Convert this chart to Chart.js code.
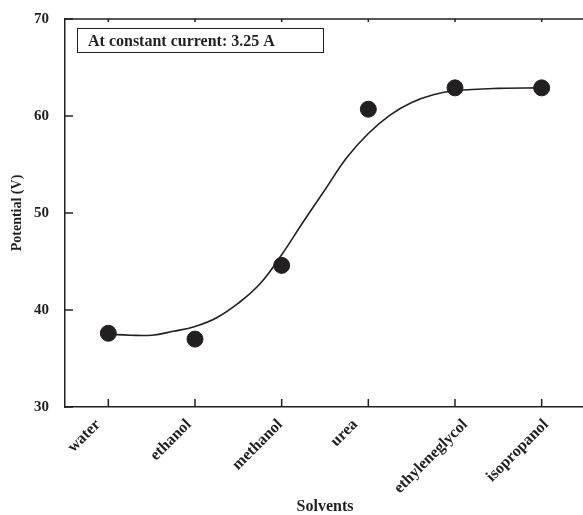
<!DOCTYPE html>
<html>
<head>
<meta charset="utf-8">
<script src="https://cdn.jsdelivr.net/npm/chart.js@4/dist/chart.umd.min.js"></script>
<style>
html,body{margin:0;padding:0;overflow:hidden;background:#fff;}
#wrap{width:585px;height:515px;position:relative;}
</style>
</head>
<body>
<div id="wrap"><canvas id="c" width="585" height="515"></canvas></div>
<script>
// Data
const solvents = ["water", "ethanol", "methanol", "urea", "ethyleneglycol", "isopropanol"];
const potential = [37.6, 37.0, 44.6, 60.7, 62.9, 62.9];
// Fitted curve read along its path (x = category position)
const fitX = [0, 0.25, 0.5, 0.75, 1, 1.25, 1.5, 1.75, 2, 2.25, 2.5, 2.75, 3, 3.25, 3.5, 3.75, 4, 4.5, 5];
const fitY = [37.5, 37.4, 37.4, 37.8, 38.3, 39.2, 40.7, 42.7, 45.7, 49.1, 52.4, 55.7, 58.2, 60.1, 61.4, 62.2, 62.6, 62.85, 62.9];
const yTicks = [30, 40, 50, 60, 70];
const note = "At constant current: 3.25 A";

const INK = '#231f20';
const FONT = '"Liberation Serif", "Times New Roman", serif';

const framePlugin = {
  id: 'frame',
  afterDraw(chart) {
    const ctx = chart.ctx;
    const a = chart.chartArea;
    const xs = chart.scales.x, ys = chart.scales.y;
    ctx.save();
    ctx.strokeStyle = INK;
    ctx.lineWidth = 1.5;
    // top border
    ctx.beginPath();
    ctx.moveTo(a.left, a.top);
    ctx.lineTo(a.right, a.top);
    ctx.stroke();
    // category ticks (inside) bottom and top
    solvents.forEach((s, i) => {
      const px = xs.getPixelForValue(i);
      ctx.beginPath();
      ctx.moveTo(px, a.bottom);
      ctx.lineTo(px, a.bottom - 8);
      ctx.moveTo(px, a.top);
      ctx.lineTo(px, a.top + 3);
      ctx.stroke();
    });
    // y ticks (inside)
    yTicks.forEach(v => {
      const py = ys.getPixelForValue(v);
      ctx.beginPath();
      ctx.moveTo(a.left, py);
      ctx.lineTo(a.left + 8, py);
      ctx.stroke();
    });
    // rotated category labels
    ctx.fillStyle = INK;
    ctx.font = 'bold 16px ' + FONT;
    ctx.textAlign = 'center';
    ctx.textBaseline = 'middle';
    solvents.forEach((s, i) => {
      const px = xs.getPixelForValue(i);
      const w = ctx.measureText(s).width;
      const h = 12;
      const cx = px - 24;
      const cy = a.bottom + 11 + (w + h) * 0.3536;
      ctx.save();
      ctx.translate(cx, cy);
      ctx.rotate(-Math.PI / 4);
      ctx.fillText(s, 0, 0);
      ctx.restore();
    });
    // annotation box
    ctx.lineWidth = 1;
    ctx.strokeRect(77.5, 28.5, 246, 24);
    ctx.font = 'bold 16px ' + FONT;
    ctx.textAlign = 'left';
    ctx.textBaseline = 'middle';
    ctx.fillText(note, 88, 41.5);
    ctx.restore();
  }
};

new Chart(document.getElementById('c'), {
  type: 'scatter',
  data: {
    datasets: [
      {
        type: 'line',
        data: fitX.map((x, i) => ({x: x, y: fitY[i]})),
        borderColor: INK,
        borderWidth: 1.6,
        pointRadius: 0,
        tension: 0.4,
        fill: false,
        order: 2
      },
      {
        type: 'scatter',
        data: potential.map((v, i) => ({x: i, y: v})),
        backgroundColor: INK,
        borderColor: INK,
        pointRadius: 8,
        pointHoverRadius: 8,
        order: 1
      }
    ]
  },
  options: {
    responsive: false,
    animation: false,
    devicePixelRatio: 1,
    layout: {autoPadding: false, padding: {top: 19, right: 0, bottom: 0, left: 0}},
    plugins: {legend: {display: false}, tooltip: {enabled: false}},
    scales: {
      x: {
        type: 'linear',
        min: -0.5,
        max: 5.5,
        afterBuildTicks: s => { s.ticks = solvents.map((_, i) => ({value: i})); },
        afterFit: s => { s.height = 108; },
        grid: {display: false},
        border: {display: true, color: INK, width: 1.5},
        ticks: {display: false},
        title: {
          display: true,
          text: 'Solvents',
          color: INK,
          padding: {top: 0, bottom: 0},
          font: {family: FONT, size: 16, weight: 'bold', lineHeight: 1}
        }
      },
      y: {
        min: 30,
        max: 70,
        afterBuildTicks: s => { s.ticks = yTicks.map(v => ({value: v})); },
        afterFit: s => { s.width = 65; },
        grid: {display: false},
        border: {display: true, color: INK, width: 1.5},
        ticks: {
          padding: 8,
          color: INK,
          font: {family: FONT, size: 15, weight: 'bold'}
        },
        title: {
          display: true,
          text: 'Potential (V)',
          color: INK,
          padding: {top: 10, bottom: 0},
          font: {family: FONT, size: 14, weight: 'bold', lineHeight: 1}
        }
      }
    }
  },
  plugins: [framePlugin]
});
</script>
</body>
</html>
